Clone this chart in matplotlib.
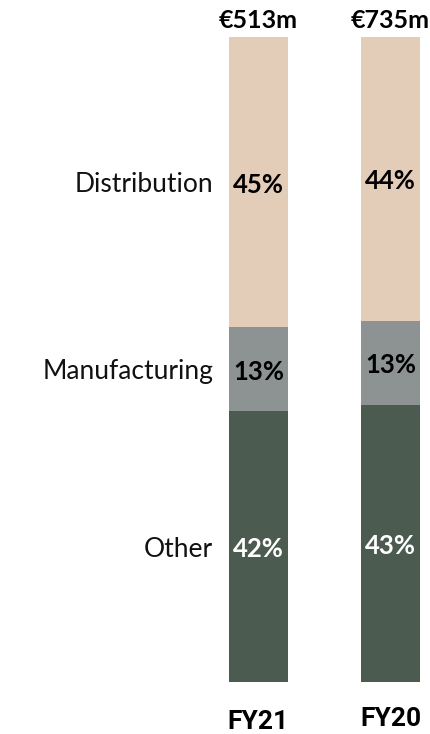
import matplotlib
matplotlib.use("Agg")
import matplotlib.pyplot as plt

years = ["FY21", "FY20"]
totals = ["€513m", "€735m"]
segments = ["Other", "Manufacturing", "Distribution"]
shares = {
    "Other": [42, 43],
    "Manufacturing": [13, 13],
    "Distribution": [45, 44],
}
colors = {"Other": "#4C5B50", "Manufacturing": "#8D9293", "Distribution": "#E3CDB9"}
text_colors = {"Other": "white", "Manufacturing": "black", "Distribution": "black"}

W, H = 431, 734
fig = plt.figure(figsize=(W / 100, H / 100), dpi=100)
ax = fig.add_axes([229 / W, (H - 682) / H, 191 / W, 645 / H])

x = [0, 1]
width = 0.445
bottom = [0, 0]
for seg in segments:
    vals = shares[seg]
    ax.bar(x, vals, width, bottom=bottom, color=colors[seg], edgecolor="none")
    for i, v in enumerate(vals):
        ax.text(x[i], bottom[i] + v / 2 - 0.4, f"{v}%", ha="center", va="center",
                fontsize=18.5, fontweight="bold", color=text_colors[seg], family="Lato")
    # category name left of first bar
    ax.text(-0.343, vals[0] / 2 + bottom[0] - 0.4, seg, ha="right", va="center",
            fontsize=19, color="#111111", family="Lato")
    bottom = [b + v for b, v in zip(bottom, vals)]

for i in range(len(years)):
    ax.annotate(totals[i], (x[i], 100), xytext=(0, 12), textcoords="offset points",
                ha="center", va="center", fontsize=18, fontweight="bold", family="Lato")
    ax.annotate(years[i], (x[i], 0), xytext=(0, -28.5 if i == 0 else -27), textcoords="offset points",
                ha="center", va="center", fontsize=19, fontweight="bold", family="Roboto")

ax.set_xlim(-width / 2, 1 + width / 2)
ax.set_ylim(0, 100)
ax.axis("off")

fig.savefig("out.png", dpi=100)
